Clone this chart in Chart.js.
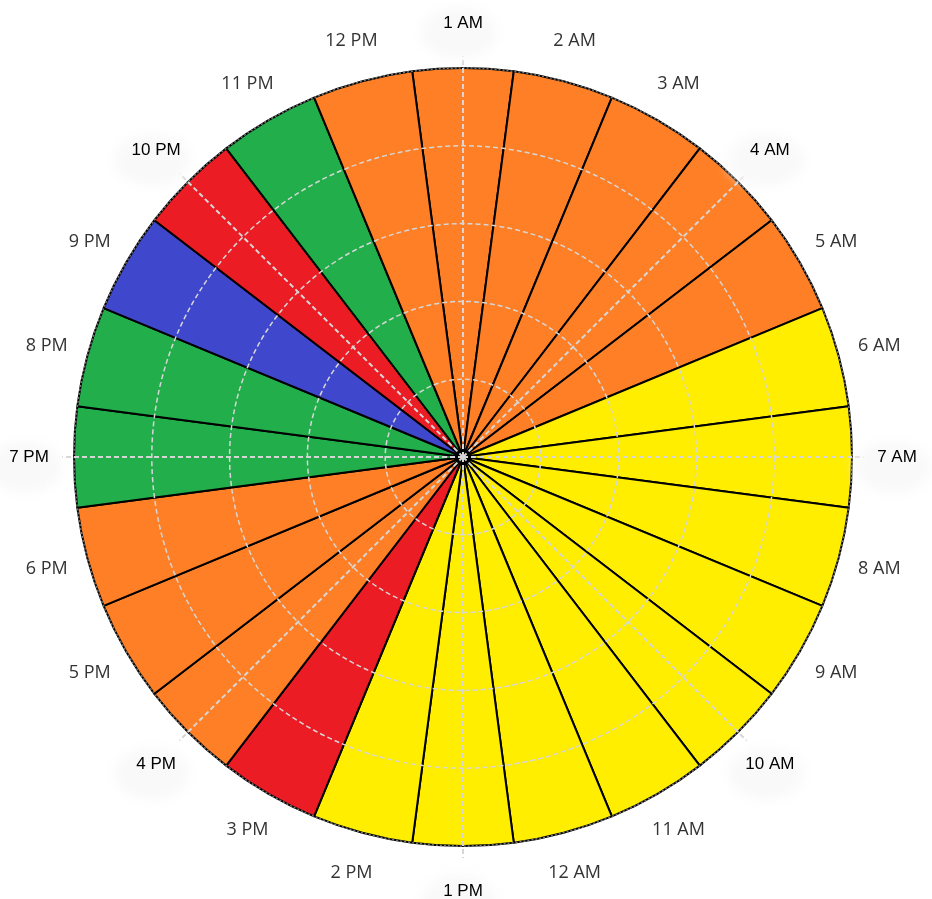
<!DOCTYPE html>
<html lang="en">
<head>
    <meta charset="UTF-8">
    <title>Hours Polar Chart</title>
    <script src="https://cdn.jsdelivr.net/npm/chart.js"></script>
    <style>
        html, body { margin: 0; padding: 0; background: #fff; }
        #wrap { width: 932px; height: 899px; }
    </style>
</head>
<body>
    <div id="wrap"><canvas id="hoursChart"></canvas></div>

    <script>
        // clockwise from the top
        const hourLabels = ['1 AM', '2 AM', '3 AM', '4 AM', '5 AM', '6 AM', '7 AM', '8 AM', '9 AM', '10 AM', '11 AM', '12 AM',
                            '1 PM', '2 PM', '3 PM', '4 PM', '5 PM', '6 PM', '7 PM', '8 PM', '9 PM', '10 PM', '11 PM', '12 PM'];
        const hourValues = [5, 5, 5, 5, 5, 5, 5, 5, 5, 5, 5, 5,
                            5, 5, 5, 5, 5, 5, 5, 5, 5, 5, 5, 5];
        const hourGroups = ['orange', 'orange', 'orange', 'orange', 'orange', 'yellow', 'yellow', 'yellow', 'yellow', 'yellow', 'yellow', 'yellow',
                            'yellow', 'yellow', 'red', 'orange', 'orange', 'orange', 'green', 'green', 'blue', 'red', 'green', 'orange'];
        const radialTicks = [0, 1, 2, 3, 4, 5];

        const groupColors = {
            orange: '#FE7F25',
            yellow: '#FFEE00',
            green: '#22AE4B',
            red: '#EC1C24',
            blue: '#3F48CC'
        };

        // dashed angle lines + hour labels drawn on top
        const hourDecor = {
            id: 'hourDecor',
            afterDraw(chart) {
                const scale = chart.scales.r;
                const ctx = chart.ctx;
                const half = Math.PI / hourLabels.length;
                const outer = scale.drawingArea;

                ctx.save();
                ctx.strokeStyle = '#d6d6d6';
                ctx.lineWidth = 2;
                ctx.setLineDash([5, 3]);
                hourLabels.forEach((lbl, i) => {
                    if (i % 3 !== 0) return;
                    const p = scale.getPointPosition(i, outer + 12, half);
                    ctx.beginPath();
                    ctx.moveTo(scale.xCenter, scale.yCenter);
                    ctx.lineTo(p.x, p.y);
                    ctx.stroke();
                });
                ctx.restore();

                ctx.save();
                ctx.textAlign = 'center';
                ctx.textBaseline = 'middle';
                hourLabels.forEach((lbl, i) => {
                    const major = i % 3 === 0;
                    const p = scale.getPointPosition(i, outer + (major ? 45 : 42), half);
                    if (major) {
                        ctx.save();
                        ctx.filter = 'blur(6px)';
                        ctx.fillStyle = '#f9f9f9';
                        ctx.beginPath();
                        ctx.ellipse(p.x - 4, p.y + 10, 38, 26, 0, 0, Math.PI * 2);
                        ctx.fill();
                        ctx.restore();
                        ctx.font = '17px "Liberation Sans", Arial, sans-serif';
                        ctx.fillStyle = '#000';
                    } else {
                        ctx.font = '18px "Open Sans", sans-serif';
                        ctx.fillStyle = '#333';
                    }
                    ctx.fillText(lbl, p.x, p.y);
                });
                ctx.restore();
            }
        };

        new Chart(document.getElementById('hoursChart'), {
            type: 'polarArea',
            data: {
                labels: hourLabels,
                datasets: [{
                    data: hourValues,
                    backgroundColor: hourGroups.map(g => groupColors[g]),
                    borderColor: '#000',
                    borderWidth: 2
                }]
            },
            options: {
                responsive: true,
                maintainAspectRatio: false,
                animation: false,
                layout: { padding: { top: 68, bottom: 53, left: 20, right: 26 } },
                plugins: {
                    legend: { display: false },
                    tooltip: { enabled: false }
                },
                scales: {
                    r: {
                        min: radialTicks[0],
                        max: radialTicks[radialTicks.length - 1],
                        startAngle: -180 / hourLabels.length,
                        ticks: { display: false, stepSize: 1 },
                        angleLines: { display: false },
                        pointLabels: { display: false },
                        grid: {
                            z: 1,
                            circular: true,
                            lineWidth: 1.5,
                            color: c => c.index === radialTicks.length - 1 ? '#777' : '#d6d6d6'
                        },
                        border: {
                            dash: c => c.index === radialTicks.length - 1 ? [2, 2] : [5, 3]
                        }
                    }
                }
            },
            plugins: [hourDecor]
        });
    </script>
</body>
</html>
